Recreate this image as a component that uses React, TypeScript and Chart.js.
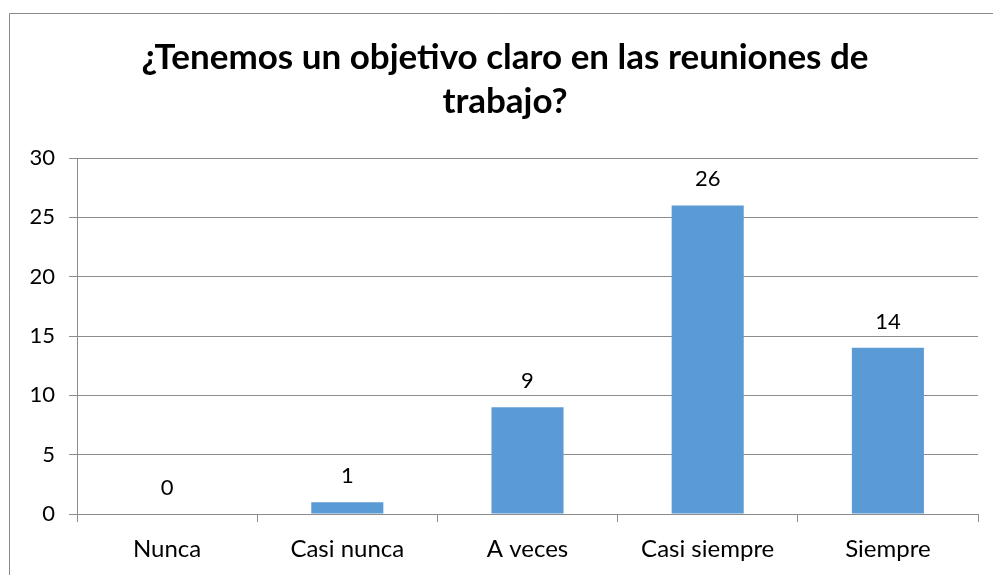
import React, { useEffect, useRef } from "react";
import { Chart, registerables } from "chart.js";

Chart.register(...registerables);

const categories = ["Nunca", "Casi nunca", "A veces", "Casi siempre", "Siempre"];
const values = [0, 1, 9, 26, 14];
const titleLines = ["¿Tenemos un objetivo claro en las reuniones de", "trabajo?"];
const yMax = 30;
const yStep = 5;

const FONT = "Lato, 'Open Sans', sans-serif";
const BAR = "#5B9BD5";
const GRID = "#8c8c8c";

const framePlugin = {
  id: "frame",
  beforeDraw(chart: any) {
    const { ctx } = chart;
    ctx.save();
    ctx.fillStyle = "#ffffff";
    ctx.fillRect(0, 0, chart.width, chart.height);
    ctx.strokeStyle = "#8a8a8a";
    ctx.lineWidth = 1;
    ctx.beginPath();
    ctx.moveTo(9.5, chart.height + 5);
    ctx.lineTo(9.5, 13.5);
    ctx.lineTo(chart.width + 5, 13.5);
    ctx.stroke();
    ctx.restore();
  },
};

const titlePlugin = {
  id: "titleText",
  afterDraw(chart: any) {
    const { ctx } = chart;
    ctx.save();
    ctx.fillStyle = "#000000";
    ctx.font = `bold 35px ${FONT}`;
    ctx.textAlign = "center";
    ctx.textBaseline = "alphabetic";
    ctx.fillText(titleLines[0], 505, 69);
    ctx.fillText(titleLines[1], 505, 113);
    ctx.restore();
  },
};

const labelPlugin = {
  id: "valueLabels",
  afterDatasetsDraw(chart: any) {
    const { ctx } = chart;
    const meta = chart.getDatasetMeta(0);
    ctx.save();
    ctx.fillStyle = "#000000";
    ctx.font = `22px ${FONT}`;
    ctx.textAlign = "center";
    ctx.textBaseline = "alphabetic";
    meta.data.forEach((bar: any, i: number) => {
      ctx.fillText(String(values[i]), bar.x, bar.y - 19);
    });
    ctx.restore();
  },
};

export default function App() {
  const ref = useRef<HTMLCanvasElement>(null);
  useEffect(() => {
    if (!ref.current) return;
    const chart = new Chart(ref.current, {
      type: "bar",
      data: {
        labels: categories,
        datasets: [
          {
            data: values,
            backgroundColor: BAR,
            borderWidth: 0,
            barPercentage: 0.4,
            categoryPercentage: 1,
          },
        ],
      },
      options: {
        animation: false,
        responsive: false,
        maintainAspectRatio: false,
        layout: { padding: { top: 158, right: 15, left: 0, bottom: 0 } },
        plugins: {
          legend: { display: false },
          title: { display: false },
          tooltip: { enabled: false },
        },
        scales: {
          x: {
            afterFit: (s: any) => {
              s.height = 61;
            },
            grid: {
              display: true,
              drawOnChartArea: false,
              drawTicks: true,
              tickLength: 8,
              color: GRID,
              offset: true,
            },
            border: { display: true, color: GRID },
            ticks: {
              color: "#000000",
              font: { family: FONT, size: 24 },
              padding: 13,
            },
          },
          y: {
            min: 0,
            max: yMax,
            afterFit: (s: any) => {
              s.width = 77;
            },
            grid: {
              color: GRID,
              tickLength: 8,
            },
            border: { display: true, color: GRID },
            ticks: {
              stepSize: yStep,
              color: "#000000",
              font: { family: FONT, size: 22 },
              padding: 14,
            },
          },
        },
      },
      plugins: [framePlugin, titlePlugin, labelPlugin],
    });
    return () => chart.destroy();
  }, []);
  return (
    <div style={{ position: "fixed", left: 0, top: 0, width: 993, height: 575, background: "#fff" }}>
      <canvas ref={ref} width={993} height={575} style={{ width: 993, height: 575, display: "block" }} />
    </div>
  );
}
